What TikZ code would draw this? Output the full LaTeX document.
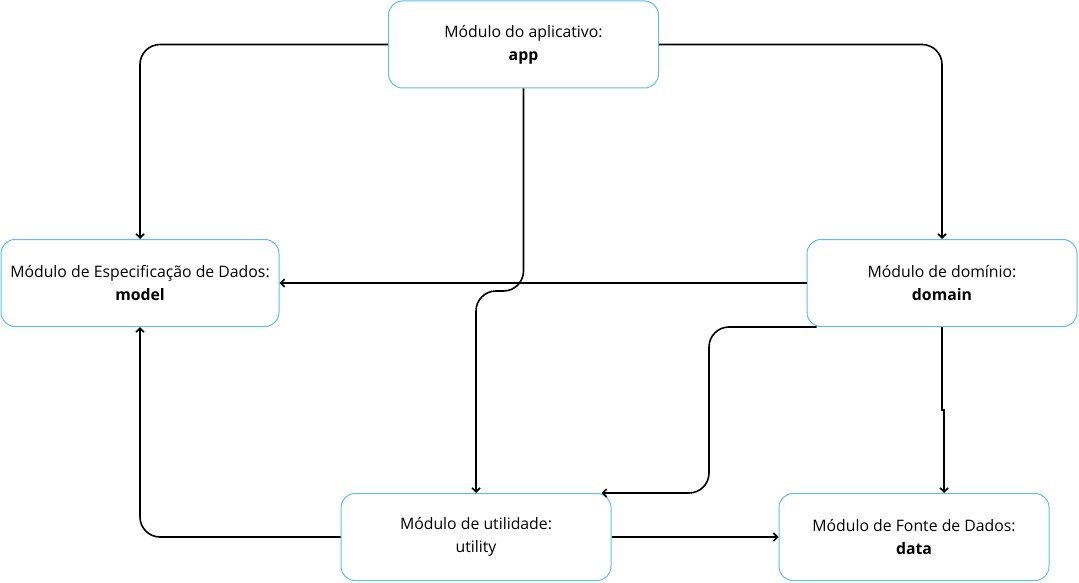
\documentclass[tikz,border=0pt]{standalone}
\usepackage{fontspec}
\setmainfont{Open Sans}
\usetikzlibrary{arrows.meta,calc}
\definecolor{boxblue}{RGB}{95,190,235}
\begin{document}
\begin{tikzpicture}[x=1pt,y=-1pt,
  box/.style={draw=boxblue, line width=1pt, rounded corners=14pt, fill=white,
    minimum width=270pt, minimum height=87pt, align=center, inner sep=0pt,
    font=\fontsize{15.8}{23}\selectfont},
  conn/.style={draw=black, line width=1.6pt, rounded corners=20pt,
    -{Straight Barb[length=4pt,width=8pt]}}]
\useasboundingbox (0,0) rectangle (1079,583);
\node[box] (app) at (523.5,44.5) {Módulo do aplicativo:\\\textbf{app}};
\node[box, minimum width=278pt] (model) at (140,283) {Módulo de Especificação de Dados:\\\textbf{model}};
\node[box] (domain) at (942,283) {Módulo de domínio:\\\textbf{domain}};
\node[box] (utility) at (476,537) {Módulo de utilidade:\\utility};
\node[box] (data) at (914,537) {Módulo de Fonte de Dados:\\\textbf{data}};
\coordinate (s1) at (523.5,291);
\coordinate (s2) at (476,291);
\coordinate (d5) at ($(domain.south west)+(10,0)$);
\coordinate (c5a) at (709,327);
\coordinate (c5b) at (709,493);
\coordinate (u5) at ($(utility.north east)+(-10,0)$);
\coordinate (j1) at (942,410);
\coordinate (j2) at (944,410);
\coordinate (dn) at ($(data.north)+(30,0)$);
\draw[conn] (app.west) -| (model.north);
\draw[conn] (app.east) -| (domain.north);
\draw[conn] (domain.west) -- (model.east);
\draw[conn] (app.south) -- (s1) -- (s2) -- (utility.north);
\draw[conn] (d5) -- (c5a) -- (c5b) -- (u5);
\draw[conn, rounded corners=0pt] (domain.south) -- (j1) -- (j2) -- (dn);
\draw[conn] (utility.west) -| (model.south);
\draw[conn] (utility.east) -- (data.west);
\end{tikzpicture}
\end{document}
